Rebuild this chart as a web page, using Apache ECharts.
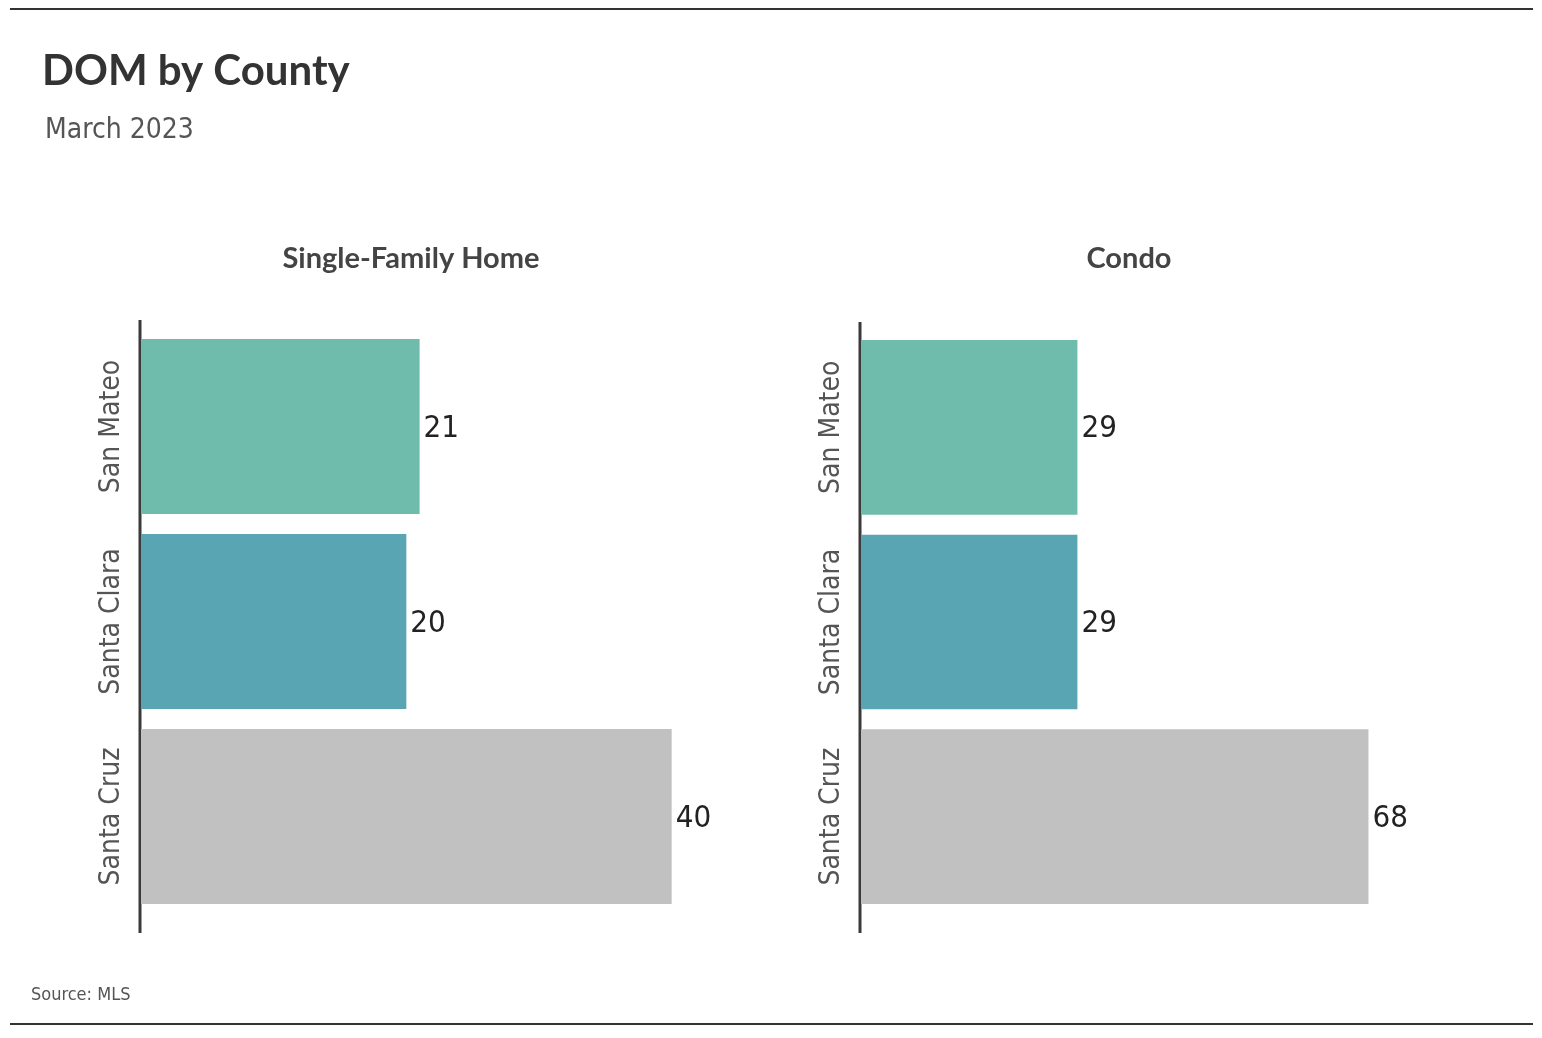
<!DOCTYPE html>
<html>
<head>
<meta charset="utf-8">
<script src="https://cdn.jsdelivr.net/npm/echarts@6/dist/echarts.min.js"></script>
<style>
html,body{margin:0;padding:0;background:#fff;}
#main{width:1542px;height:1038px;}
</style>
</head>
<body>
<div id="main"></div>
<script>
const categories = ['San Mateo', 'Santa Clara', 'Santa Cruz'];
const sfhValues = [21, 20, 40];
const condoValues = [29, 29, 68];
const barColors = ['#6fbcad', '#5aa5b3', '#c1c1c1'];
const panelTitles = ['Single-Family Home', 'Condo'];

const NARROW = "'Liberation Sans Narrow', 'DejaVu Sans Condensed', 'Roboto Condensed', sans-serif";
const BOLD = "Lato, 'Open Sans', sans-serif";

const chart = echarts.init(document.getElementById('main'));

function mkSeries(vals, idx) {
  return {
    type: 'bar',
    xAxisIndex: idx, yAxisIndex: idx,
    barCategoryGap: '10.3%',
    data: vals.map((v, i) => ({ value: v, itemStyle: { color: barColors[i] } })),
    label: {
      show: true, position: 'right', distance: 4, offset: [0, 2],
      fontFamily: NARROW, fontSize: 31, color: '#222'
    },
    silent: true
  };
}

function yAx(idx) {
  return {
    type: 'category', gridIndex: idx, data: categories, inverse: true,
    axisLine: { show: false }, axisTick: { show: false },
    axisLabel: { interval: 0, hideOverlap: false, rotate: 90, margin: 15, fontFamily: NARROW, fontSize: 28, color: '#555' }
  };
}
function xAx(idx, max) {
  return { type: 'value', gridIndex: idx, min: 0, max: max, show: false, splitLine: { show: false } };
}

chart.setOption({
  backgroundColor: '#fff',
  animation: false,
  title: [
    { text: 'DOM by County', left: 37, top: 45, textStyle: { fontFamily: BOLD, fontWeight: 'bold', fontSize: 42, color: '#333' } },
    { text: 'March 2023', left: 40, top: 112, textStyle: { fontFamily: NARROW, fontWeight: 'normal', fontSize: 28, color: '#555' } },
    { text: panelTitles[0], left: 406, top: 239, textAlign: 'center', textStyle: { fontFamily: BOLD, fontWeight: 'bold', fontSize: 29, color: '#444' } },
    { text: panelTitles[1], left: 1124, top: 239, textAlign: 'center', textStyle: { fontFamily: BOLD, fontWeight: 'bold', fontSize: 29, color: '#444' } },
    { text: 'Source: MLS', left: 26, top: 981, textStyle: { fontFamily: NARROW, fontWeight: 'normal', fontSize: 18, color: '#555' } }
  ],
  grid: [
    { left: 141, top: 329, width: 597, height: 585 },
    { left: 861, top: 330, width: 597, height: 584 }
  ],
  xAxis: [xAx(0, 45), xAx(1, 80)],
  yAxis: [yAx(0), yAx(1)],
  series: [mkSeries(sfhValues, 0), mkSeries(condoValues, 1)],
  graphic: [
    { type: 'line', shape: { x1: 10, y1: 9, x2: 1533, y2: 9 }, style: { stroke: '#333', lineWidth: 2 } },
    { type: 'line', shape: { x1: 10, y1: 1024, x2: 1533, y2: 1024 }, style: { stroke: '#333', lineWidth: 2 } },
    { type: 'line', shape: { x1: 140, y1: 320, x2: 140, y2: 933 }, style: { stroke: '#3a3a3a', lineWidth: 3 } },
    { type: 'line', shape: { x1: 860, y1: 322, x2: 860, y2: 933 }, style: { stroke: '#3a3a3a', lineWidth: 3 } }
  ]
});
</script>
</body>
</html>
